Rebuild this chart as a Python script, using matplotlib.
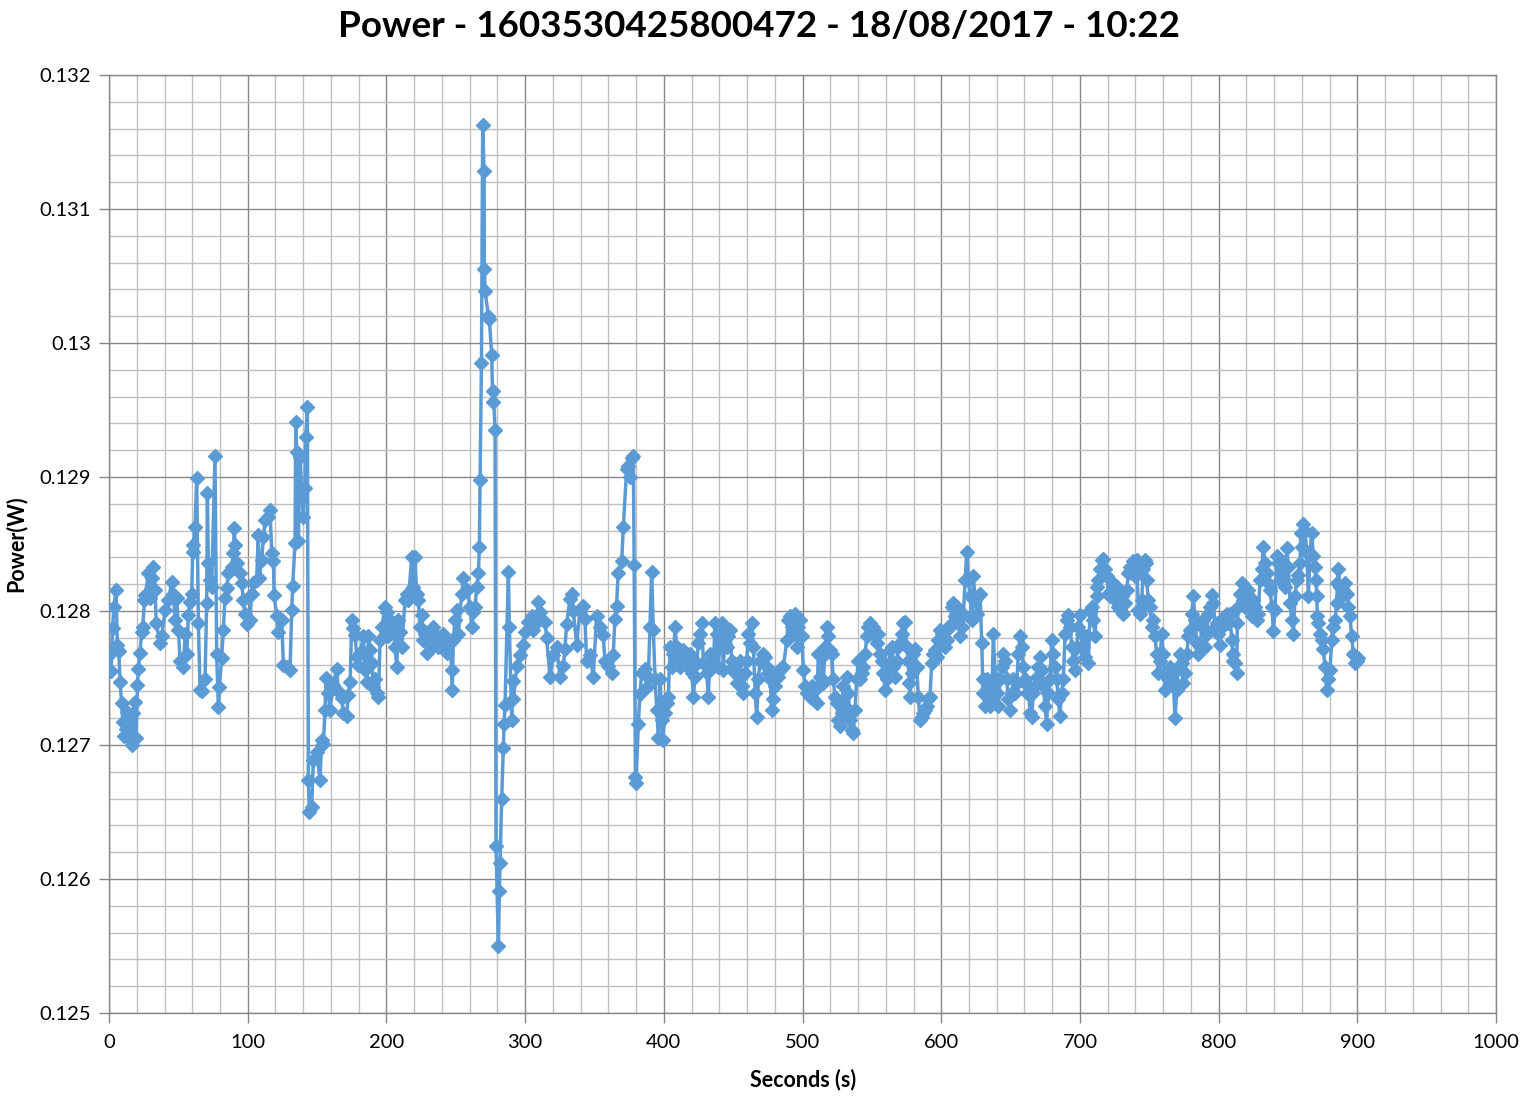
import numpy as np
import matplotlib
matplotlib.use("Agg")
import matplotlib.pyplot as plt
from matplotlib.ticker import MultipleLocator, FuncFormatter

plt.rcParams['font.family'] = ['Lato', 'DejaVu Sans']

# datos, por tramos de tiempo (segundos, potencia en W)
seconds_a = [0.7, 1.5, 2.5, 3.5, 5.0, 6.0, 7.0, 8.0, 9.0, 10.0, 11.0, 12.0, 13.0, 14.0, 15.0, 16.3, 17.5, 18.5,
             19.5, 20.5, 21.1, 22.3, 23.5, 24.3, 25.5, 26.0, 28.4, 29.5, 31.0, 32.0, 33.2, 34.0, 36.8, 38.0, 40.4,
             42.8, 45.2, 46.4, 47.6, 48.8, 50.0, 51.2, 53.6, 54.8, 56.0, 57.2, 58.4, 59.6, 60.3, 60.8, 62.0, 63.2,
             64.4, 65.6, 66.8, 69.2, 70.4, 70.9, 71.6, 72.8, 74.0, 76.4, 77.6, 78.8, 79.5, 81.2, 82.4, 83.6, 84.8,
             86.0, 88.4, 89.6, 90.3, 90.8, 92.0, 94.4, 95.6, 96.8, 98.0, 99.2, 101.6, 102.8, 104.0, 106.4, 107.6,
             108.4, 110.0, 111.3, 112.5, 114.9, 116.1, 117.3, 118.5, 119.0, 120.9, 122.1, 124.5, 125.7, 128.1,
             130.5, 131.7, 132.4, 134.1, 134.6]
power_a = [0.12768, 0.12755, 0.12787, 0.12803, 0.12816, 0.12775, 0.12770, 0.12747, 0.12731, 0.12717, 0.12707,
           0.12712, 0.12725, 0.12706, 0.12716, 0.12700, 0.12724, 0.12732, 0.12705, 0.12745, 0.12757, 0.12769,
           0.12784, 0.12788, 0.12808, 0.12812, 0.12828, 0.12810, 0.12825, 0.12833, 0.12816, 0.12791, 0.12776,
           0.12781, 0.12801, 0.12808, 0.12822, 0.12813, 0.12793, 0.12810, 0.12786, 0.12763, 0.12758, 0.12783,
           0.12768, 0.12797, 0.12807, 0.12813, 0.12844, 0.12849, 0.12863, 0.12899, 0.12791, 0.12741, 0.12740,
           0.12749, 0.12806, 0.12888, 0.12836, 0.12823, 0.12818, 0.12916, 0.12768, 0.12728, 0.12743, 0.12765,
           0.12786, 0.12810, 0.12817, 0.12828, 0.12833, 0.12843, 0.12862, 0.12849, 0.12836, 0.12828, 0.12821,
           0.12808, 0.12798, 0.12790, 0.12793, 0.12813, 0.12821, 0.12823, 0.12857, 0.12825, 0.12838, 0.12855,
           0.12868, 0.12870, 0.12875, 0.12843, 0.12837, 0.12812, 0.12796, 0.12784, 0.12793, 0.12760, 0.12758,
           0.12756, 0.12801, 0.12819, 0.12851, 0.12941]

seconds_b = [135.3, 136.5, 137.7, 138.9, 140.1, 141.3, 141.8, 143.0, 143.7, 144.4, 146.1, 147.3, 149.7, 152.1,
             153.3, 154.5, 155.7, 156.5, 158.1, 159.3, 161.7, 164.1, 165.3, 167.7, 168.9, 171.3, 172.5, 173.8,
             175.0, 176.2, 177.4, 178.6, 179.8, 181.0, 183.4, 184.6, 185.8, 187.0, 188.2, 189.4, 190.6, 191.8,
             193.0, 194.2, 195.4, 196.6, 199.0, 200.2, 201.4, 202.6, 205.0, 206.2, 207.4, 208.6, 209.8, 211.0,
             213.4, 214.6, 215.8, 218.2, 219.4, 220.6, 221.8, 223.0, 224.2, 225.4, 226.6, 227.8, 229.0, 231.4,
             232.6, 233.8, 236.2, 237.4, 239.8, 241.0, 242.2, 243.4, 245.8, 247.0, 247.5, 248.2, 249.4, 250.6,
             251.8, 254.3, 255.5, 257.9, 260.3, 261.5, 262.7, 263.9, 265.1, 266.3, 267.0, 267.5, 268.5]
power_b = [0.12919, 0.12852, 0.12915, 0.12890, 0.12870, 0.12892, 0.12930, 0.12952, 0.12674, 0.12650, 0.12654,
           0.12689, 0.12695, 0.12674, 0.12704, 0.12701, 0.12726, 0.12750, 0.12739, 0.12726, 0.12745, 0.12757,
           0.12740, 0.12735, 0.12724, 0.12722, 0.12737, 0.12747, 0.12793, 0.12787, 0.12782, 0.12766, 0.12760,
           0.12769, 0.12781, 0.12756, 0.12747, 0.12781, 0.12771, 0.12761, 0.12743, 0.12749, 0.12739, 0.12736,
           0.12778, 0.12788, 0.12803, 0.12799, 0.12781, 0.12793, 0.12787, 0.12773, 0.12758, 0.12793, 0.12784,
           0.12773, 0.12808, 0.12813, 0.12808, 0.12840, 0.12818, 0.12840, 0.12813, 0.12808, 0.12788, 0.12797,
           0.12778, 0.12783, 0.12769, 0.12783, 0.12773, 0.12788, 0.12781, 0.12773, 0.12778, 0.12783, 0.12773,
           0.12769, 0.12776, 0.12756, 0.12741, 0.12778, 0.12793, 0.12801, 0.12783, 0.12813, 0.12825, 0.12816,
           0.12803, 0.12788, 0.12799, 0.12803, 0.12818, 0.12828, 0.12848, 0.12898, 0.12985]

seconds_c = [269.4, 270.4, 270.6, 271.1, 273.5, 274.2, 275.9, 276.6, 277.1, 278.3, 279.0, 280.7, 281.4, 281.9,
             283.1, 284.3, 284.8, 285.5, 287.9, 288.6, 290.3, 291.0, 291.5, 294.0, 296.3, 298.7, 299.9, 302.3,
             304.7, 305.9, 308.3, 309.5, 310.7, 314.3, 315.5, 317.9, 320.3, 322.7, 325.1, 327.5, 328.7, 329.9,
             332.3, 333.5, 334.7, 337.1, 339.5, 341.9, 343.1, 344.3, 346.7, 349.1, 351.5, 353.9, 356.3, 357.5,
             359.9, 362.3, 363.5, 364.7, 365.9, 367.1, 369.6, 370.8, 373.2, 374.4, 375.6, 376.8, 378.0, 378.6,
             379.5, 380.0, 381.6, 382.8, 384.0, 386.4, 387.6, 388.8, 390.0, 391.2, 392.4, 393.7, 394.9, 396.1]
power_c = [0.13163, 0.13128, 0.13055, 0.13039, 0.13020, 0.13018, 0.12991, 0.12956, 0.12964, 0.12935, 0.12625,
           0.12550, 0.12591, 0.12612, 0.12660, 0.12698, 0.12716, 0.12730, 0.12829, 0.12788, 0.12719, 0.12748,
           0.12734, 0.12759, 0.12767, 0.12775, 0.12784, 0.12792, 0.12796, 0.12786, 0.12792, 0.12807, 0.12799,
           0.12792, 0.12780, 0.12751, 0.12767, 0.12773, 0.12751, 0.12759, 0.12772, 0.12790, 0.12809, 0.12813,
           0.12800, 0.12775, 0.12800, 0.12804, 0.12794, 0.12763, 0.12767, 0.12751, 0.12796, 0.12788, 0.12782,
           0.12763, 0.12759, 0.12754, 0.12767, 0.12794, 0.12804, 0.12828, 0.12837, 0.12863, 0.12906, 0.12908,
           0.12900, 0.12914, 0.12916, 0.12834, 0.12676, 0.12672, 0.12716, 0.12738, 0.12754, 0.12757, 0.12743,
           0.12751, 0.12788, 0.12829, 0.12786, 0.12749, 0.12726, 0.12705]

seconds_d = [397.3, 398.5, 399.2, 400.9, 402.1, 403.2, 404.5, 405.7, 406.9, 408.1, 409.3, 410.5, 411.7, 412.9,
             414.1, 416.5, 417.7, 418.9, 420.1, 421.3, 422.5, 423.7, 424.9, 426.1, 427.3, 428.5, 430.9, 432.1,
             433.3, 434.5, 435.7, 436.9, 438.1, 439.3, 440.5, 441.7, 442.9, 444.1, 445.3, 446.5, 447.7, 448.9,
             450.1, 451.3, 452.5, 453.7, 454.9, 456.1, 457.3, 458.5, 459.7, 461.0, 462.2, 463.4, 464.6, 465.8,
             467.0, 468.2, 469.4, 471.8, 473.0, 474.2, 475.4, 476.6, 477.8, 479.0, 480.2, 481.4, 482.6, 483.8,
             485.0, 486.2, 488.6, 489.8, 491.0, 492.2, 493.4, 494.6, 495.8, 497.0, 498.2, 499.4, 500.6, 501.8,
             503.0, 505.4, 506.6, 507.8, 509.0, 510.2, 511.4, 512.6, 513.8, 515.0, 516.2, 517.4, 518.6, 519.8,
             521.0, 522.2, 523.4, 524.6, 525.8, 527.0, 528.2, 529.4, 530.6, 531.8, 533.0, 534.2, 535.4, 536.6,
             537.8, 539.0, 540.2]
power_d = [0.12749, 0.12719, 0.12704, 0.12724, 0.12731, 0.12736, 0.12773, 0.12758, 0.12768, 0.12788, 0.12773,
           0.12763, 0.12758, 0.12768, 0.12771, 0.12766, 0.12758, 0.12768, 0.12754, 0.12736, 0.12751, 0.12761,
           0.12776, 0.12783, 0.12791, 0.12761, 0.12754, 0.12736, 0.12768, 0.12763, 0.12758, 0.12791, 0.12783,
           0.12758, 0.12778, 0.12791, 0.12756, 0.12783, 0.12773, 0.12781, 0.12786, 0.12763, 0.12758, 0.12754,
           0.12746, 0.12754, 0.12763, 0.12744, 0.12739, 0.12754, 0.12763, 0.12783, 0.12776, 0.12791, 0.12773,
           0.12739, 0.12721, 0.12749, 0.12763, 0.12768, 0.12766, 0.12758, 0.12754, 0.12749, 0.12726, 0.12734,
           0.12744, 0.12754, 0.12751, 0.12756, 0.12758, 0.12758, 0.12778, 0.12793, 0.12796, 0.12788, 0.12783,
           0.12798, 0.12773, 0.12788, 0.12793, 0.12781, 0.12756, 0.12744, 0.12739, 0.12736, 0.12744, 0.12734,
           0.12741, 0.12731, 0.12768, 0.12751, 0.12766, 0.12746, 0.12773, 0.12788, 0.12781, 0.12771, 0.12768,
           0.12749, 0.12736, 0.12731, 0.12719, 0.12714, 0.12724, 0.12744, 0.12729, 0.12751, 0.12739, 0.12719,
           0.12711, 0.12709, 0.12726, 0.12749, 0.12763]

seconds_e = [541.5, 542.7, 543.9, 545.1, 546.3, 547.5, 548.7, 549.9, 551.1, 552.3, 553.5, 554.7, 555.9, 557.1,
             558.3, 559.5, 560.7, 561.9, 563.1, 564.3, 565.5, 566.7, 567.9, 569.1, 570.3, 571.5, 572.7, 573.9,
             575.1, 576.3, 577.0, 577.5, 578.7, 579.9, 581.1, 582.3, 583.5, 584.7, 585.9, 587.1, 588.3, 589.5,
             590.7, 591.9, 593.1, 594.3, 595.5, 596.7, 597.9, 599.1, 600.3, 601.5, 602.7, 603.9, 605.1, 606.3,
             607.5, 608.7, 609.9, 611.1, 612.3, 613.6, 614.8, 616.0, 617.2, 618.4, 619.6, 620.8, 622.0, 623.2,
             624.4, 625.6, 626.8, 628.0, 629.2, 629.9, 630.4, 631.6, 632.8, 634.0, 635.2, 636.4, 637.6, 638.8,
             640.0, 641.2, 642.4, 643.6, 644.8, 646.0, 647.2, 648.4, 649.6, 650.8, 652.0, 653.2, 654.4, 655.6,
             656.8, 658.0, 659.2, 660.4, 661.6, 662.8, 664.0, 665.2, 666.4, 667.6, 668.8, 670.0, 671.2, 672.4,
             673.6, 674.8, 676.0, 677.2, 678.4]
power_e = [0.12749, 0.12754, 0.12758, 0.12768, 0.12781, 0.12788, 0.12791, 0.12783, 0.12788, 0.12781, 0.12776,
           0.12783, 0.12768, 0.12763, 0.12754, 0.12741, 0.12749, 0.12758, 0.12771, 0.12773, 0.12758, 0.12751,
           0.12763, 0.12773, 0.12776, 0.12783, 0.12791, 0.12792, 0.12773, 0.12763, 0.12746, 0.12736, 0.12754,
           0.12768, 0.12772, 0.12758, 0.12736, 0.12719, 0.12721, 0.12724, 0.12726, 0.12729, 0.12734, 0.12736,
           0.12761, 0.12768, 0.12771, 0.12766, 0.12778, 0.12786, 0.12783, 0.12781, 0.12773, 0.12778, 0.12788,
           0.12788, 0.12803, 0.12806, 0.12796, 0.12803, 0.12793, 0.12781, 0.12788, 0.12798, 0.12823, 0.12844,
           0.12823, 0.12811, 0.12793, 0.12826, 0.12808, 0.12798, 0.12811, 0.12813, 0.12776, 0.12749, 0.12739,
           0.12729, 0.12749, 0.12744, 0.12729, 0.12734, 0.12783, 0.12751, 0.12739, 0.12729, 0.12749, 0.12758,
           0.12768, 0.12763, 0.12749, 0.12734, 0.12726, 0.12739, 0.12749, 0.12739, 0.12746, 0.12768, 0.12781,
           0.12773, 0.12758, 0.12749, 0.12739, 0.12744, 0.12724, 0.12721, 0.12739, 0.12744, 0.12751, 0.12758,
           0.12766, 0.12756, 0.12744, 0.12729, 0.12716, 0.12739, 0.12749]

seconds_f = [679.6, 680.8, 682.0, 683.2, 684.4, 685.6, 686.8, 688.0, 689.3, 690.5, 691.7, 692.9, 694.1, 695.3,
             696.5, 697.7, 698.9, 700.1, 701.3, 702.5, 703.7, 704.9, 706.1, 707.3, 708.5, 709.7, 710.9, 712.1,
             712.6, 713.3, 714.5, 715.7, 716.9, 718.1, 719.3, 720.5, 721.7, 722.9, 724.1, 725.3, 726.5, 727.7,
             728.9, 730.1, 731.3, 732.5, 733.7, 734.9, 736.1, 737.3, 738.5, 739.7, 740.9, 742.1, 743.3, 744.5,
             745.7, 746.9, 747.6, 748.1, 749.3, 750.5, 751.7, 752.9, 754.1, 755.3, 756.5, 757.7, 758.9, 760.1,
             761.3, 762.5, 763.8, 765.0, 766.2, 767.4, 768.6, 769.8, 771.0, 772.2, 773.4, 774.6, 775.8, 777.0,
             778.2, 779.4, 780.6, 781.8, 783.0, 784.2, 785.4, 786.6, 787.8, 789.0, 790.2, 791.4, 792.6, 793.8,
             795.0, 796.2, 797.4, 798.6, 799.8, 801.0, 802.2, 803.4, 804.6, 805.8, 807.0, 808.2]
power_f = [0.12778, 0.12768, 0.12758, 0.12749, 0.12734, 0.12722, 0.12739, 0.12749, 0.12783, 0.12793, 0.12797,
           0.12788, 0.12773, 0.12763, 0.12756, 0.12773, 0.12788, 0.12797, 0.12783, 0.12773, 0.12766, 0.12781,
           0.12761, 0.12801, 0.12803, 0.12793, 0.12781, 0.12811, 0.12818, 0.12823, 0.12831, 0.12838, 0.12839,
           0.12831, 0.12826, 0.12813, 0.12811, 0.12816, 0.12821, 0.12808, 0.12818, 0.12803, 0.12801, 0.12811,
           0.12798, 0.12806, 0.12816, 0.12828, 0.12833, 0.12828, 0.12837, 0.12826, 0.12838, 0.12801, 0.12798,
           0.12808, 0.12831, 0.12838, 0.12836, 0.12823, 0.12808, 0.12803, 0.12788, 0.12793, 0.12781, 0.12768,
           0.12754, 0.12763, 0.12783, 0.12768, 0.12741, 0.12751, 0.12749, 0.12758, 0.12754, 0.12744, 0.12720,
           0.12741, 0.12758, 0.12768, 0.12761, 0.12746, 0.12754, 0.12768, 0.12781, 0.12786, 0.12798, 0.12811,
           0.12793, 0.12776, 0.12768, 0.12773, 0.12788, 0.12793, 0.12773, 0.12783, 0.12798, 0.12803, 0.12812,
           0.12806, 0.12788, 0.12791, 0.12783, 0.12775, 0.12788, 0.12793, 0.12796, 0.12798, 0.12791, 0.12798]

seconds_g = [809.4, 810.1, 810.6, 811.8, 813.0, 813.5, 814.2, 815.4, 816.6, 817.8, 819.0, 820.2, 821.4, 822.6,
             823.8, 825.0, 826.2, 827.4, 828.6, 829.8, 831.0, 832.2, 833.4, 834.6, 835.9, 837.1, 838.3, 839.5,
             840.7, 841.9, 843.1, 844.3, 845.5, 846.7, 847.9, 849.1, 850.3, 851.5, 852.7, 853.9, 855.1, 856.3,
             857.5, 858.7, 859.2, 859.9, 861.1, 862.3, 863.5, 864.7, 865.9, 867.1, 868.3, 869.5, 870.2, 870.7,
             871.2, 871.9, 873.1, 874.3, 875.5, 876.7, 877.9, 879.1, 880.3, 881.5, 882.7, 883.9, 885.1, 885.6,
             886.3, 887.5, 888.7, 889.9, 891.1, 892.3, 893.5, 894.7, 895.9, 897.1, 898.3, 899.5, 900.7]
power_g = [0.12778, 0.12768, 0.12763, 0.12761, 0.12754, 0.12791, 0.12803, 0.12813, 0.12821, 0.12808, 0.12803,
           0.12813, 0.12816, 0.12803, 0.12796, 0.12808, 0.12803, 0.12793, 0.12798, 0.12823, 0.12831, 0.12848,
           0.12836, 0.12828, 0.12821, 0.12816, 0.12803, 0.12785, 0.12801, 0.12841, 0.12836, 0.12823, 0.12831,
           0.12836, 0.12818, 0.12847, 0.12833, 0.12806, 0.12793, 0.12783, 0.12811, 0.12823, 0.12827, 0.12836,
           0.12858, 0.12848, 0.12865, 0.12860, 0.12843, 0.12811, 0.12843, 0.12858, 0.12841, 0.12833, 0.12823,
           0.12811, 0.12796, 0.12791, 0.12783, 0.12778, 0.12772, 0.12758, 0.12741, 0.12749, 0.12756, 0.12778,
           0.12788, 0.12793, 0.12806, 0.12821, 0.12831, 0.12818, 0.12811, 0.12816, 0.12821, 0.12813, 0.12803,
           0.12796, 0.12781, 0.12768, 0.12761, 0.12763, 0.12765]

tramos = [(seconds_a, power_a), (seconds_b, power_b), (seconds_c, power_c), (seconds_d, power_d),
          (seconds_e, power_e), (seconds_f, power_f), (seconds_g, power_g)]
for s, p in tramos:
    assert len(s) == len(p), (len(s), len(p), s[0])

seconds = np.concatenate([s for s, p in tramos])
power = np.concatenate([p for s, p in tramos])

fig = plt.figure(figsize=(15.23, 10.96), dpi=100)
ax = fig.add_axes([0.0716, 0.0757, 0.9107, 0.8559])

ax.plot(seconds, power, color='#5B9BD5', linewidth=2.5, marker='D', markersize=7.5, zorder=3)

ax.set_xlim(0, 1000)
ax.set_ylim(0.125, 0.132)
ax.xaxis.set_major_locator(MultipleLocator(100))
ax.xaxis.set_minor_locator(MultipleLocator(20))
ax.yaxis.set_major_locator(MultipleLocator(0.001))
ax.yaxis.set_minor_locator(MultipleLocator(0.0002))
ax.yaxis.set_major_formatter(FuncFormatter(lambda v, pos: f'{v:g}'))

ax.grid(which='minor', color='#BFBFBF', linewidth=1.0, zorder=0)
ax.grid(which='major', color='#878787', linewidth=1.0, zorder=1)
ax.set_axisbelow(True)
for sp in ax.spines.values():
    sp.set_color('#878787')
    sp.set_linewidth(1.0)

ax.tick_params(which='major', length=7, width=1, color='#878787', labelsize=14.5, labelcolor='black')
ax.tick_params(axis='x', which='major', pad=8)
ax.tick_params(axis='y', which='major', pad=6)
ax.tick_params(which='minor', length=0)

fig.text(0.4985, 0.9662, 'Power - 1603530425800472 - 18/08/2017 - 10:22', ha='center', va='baseline',
         fontsize=26.5, fontweight='bold')
fig.text(0.527, 0.0155, 'Seconds (s)', ha='center', va='center', fontsize=15.5, fontweight='bold')
fig.text(0.0105, 0.504, 'Power(W)', ha='center', va='center', rotation=90, fontsize=15.5, fontweight='bold')

fig.savefig('out.png', dpi=100)
